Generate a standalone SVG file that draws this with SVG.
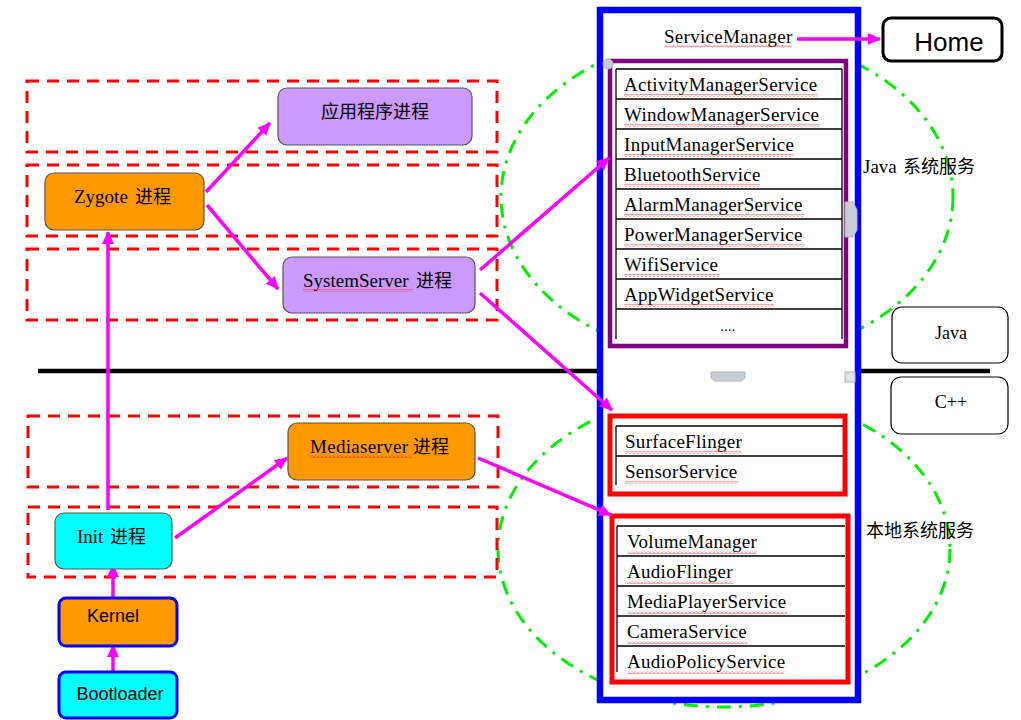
<svg xmlns="http://www.w3.org/2000/svg" width="1021" height="720" viewBox="0 0 1021 720">
<defs>
<style>
.serif{font-family:"Liberation Serif","Noto Sans CJK SC",serif;fill:#000}
.cjk{font-family:"Noto Sans CJK SC",sans-serif}
.sans{font-family:"Liberation Sans",Arial,sans-serif}
.t{font-size:19px;letter-spacing:0.3px}
.node{stroke:#555;stroke-width:1.2}
.dash{fill:none;stroke:#ff0000;stroke-width:3;stroke-dasharray:12 8}
.ell{fill:none;stroke:#00ee00;stroke-width:3;stroke-dasharray:14 8 3 8}
.arr{stroke:#ff00ff;stroke-width:3.5;fill:none;marker-end:url(#ah)}
.cell{stroke:#000;stroke-width:1.3;fill:none}
.sq{fill:url(#wave)}
</style>
<marker id="ah" markerUnits="userSpaceOnUse" markerWidth="14" markerHeight="12" refX="12" refY="6" orient="auto">
<path d="M0,0 L13,6 L0,12 Z" fill="#ff00ff"/>
</marker>
<pattern id="wave" patternUnits="userSpaceOnUse" width="4" height="3">
<path d="M0,2.5 L2,0.5 L4,2.5" fill="none" stroke="#ff2020" stroke-width="0.8"/>
</pattern>
</defs>
<rect width="1021" height="720" fill="#fff"/>

<g id="ellipses">
<ellipse class="ell" cx="727" cy="197" rx="226" ry="163"/>
<ellipse class="ell" cx="724" cy="549" rx="226" ry="158"/>
</g>

<g id="layers">
<rect class="dash" x="27" y="81" width="470" height="71"/>
<rect class="dash" x="27" y="165" width="470" height="71"/>
<rect class="dash" x="27" y="249" width="470" height="71"/>
<rect class="dash" x="28" y="416" width="470" height="71"/>
<rect class="dash" x="28" y="507" width="469" height="70"/>
</g>

<line x1="38" y1="371" x2="990" y2="371" stroke="#000" stroke-width="4.5"/>

<g id="servicemanager-box">
<rect x="600" y="10" width="258" height="690" fill="#fff" stroke="#0000ff" stroke-width="6.5"/>
<text class="serif t" x="664" y="43">ServiceManager</text>
<rect class="sq" x="664" y="45" width="128" height="3"/>
</g>

<g id="home">
<rect x="883" y="18" width="119" height="43" rx="8" fill="#fff" stroke="#000" stroke-width="3"/>
<text class="sans" x="949" y="51" font-size="26" text-anchor="middle">Home</text>
</g>

<g id="java-services">
<rect x="610" y="61" width="236" height="285" fill="none" stroke="#800080" stroke-width="4.5"/>
<path class="cell" d="M616,69 H842 M616,99 H842 M616,129 H842 M616,159 H842 M616,189 H842 M616,219 H842 M616,249 H842 M616,279 H842 M616,309 H842 M616,69 V339 M842,69 V339"/>
<g class="serif t">
<text x="624" y="91">ActivityManagerService</text>
<text x="624" y="121">WindowManagerService</text>
<text x="624" y="151">InputManagerService</text>
<text x="624" y="181">BluetoothService</text>
<text x="624" y="211">AlarmManagerService</text>
<text x="624" y="241">PowerManagerService</text>
<text x="624" y="271">WifiService</text>
<text x="624" y="301">AppWidgetService</text>
<text x="728" y="331" text-anchor="middle" font-size="14">....</text>
</g>
<rect class="sq" x="624" y="94" width="194" height="3"/>
<rect class="sq" x="624" y="124" width="196" height="3"/>
<rect class="sq" x="624" y="154" width="170" height="3"/>
<rect class="sq" x="624" y="184" width="136" height="3"/>
<rect class="sq" x="624" y="214" width="180" height="3"/>
<rect class="sq" x="624" y="244" width="180" height="3"/>
<rect class="sq" x="624" y="274" width="96" height="3"/>
<rect class="sq" x="624" y="304" width="150" height="3"/>
</g>

<g id="java-label">
<text class="serif" x="863" y="173" font-size="19">Java</text>
<text class="cjk" x="903" y="173" font-size="18">系统服务</text>
</g>

<g id="native-services-1">
<rect x="610" y="416" width="235" height="78" fill="none" stroke="#ff0000" stroke-width="5"/>
<path class="cell" d="M616,426 H843 M616,456 H843 M616,426 V485"/>
<g class="serif t">
<text x="625" y="448">SurfaceFlinger</text>
<text x="625" y="478">SensorService</text>
</g>
<rect class="sq" x="625" y="451" width="117" height="3"/>
<rect class="sq" x="625" y="481" width="113" height="3"/>
</g>

<g id="native-services-2">
<rect x="612" y="516" width="236" height="166" fill="none" stroke="#ff0000" stroke-width="5"/>
<path class="cell" d="M617,526 H845 M617,556 H845 M617,586 H845 M617,616 H845 M617,646 H845 M617,526 V672"/>
<g class="serif t">
<text x="627" y="548">VolumeManager</text>
<text x="627" y="578">AudioFlinger</text>
<text x="627" y="608">MediaPlayerService</text>
<text x="627" y="638">CameraService</text>
<text x="627" y="668">AudioPolicyService</text>
</g>
<rect class="sq" x="627" y="551" width="130" height="3"/>
<rect class="sq" x="627" y="581" width="106" height="3"/>
<rect class="sq" x="627" y="611" width="160" height="3"/>
<rect class="sq" x="627" y="641" width="120" height="3"/>
<rect class="sq" x="627" y="671" width="158" height="3"/>
</g>

<g id="native-label">
<text class="cjk" x="866" y="537" font-size="18">本地系统服务</text>
</g>

<g id="java-box">
<rect x="892" y="307" width="116" height="56" rx="10" fill="#fff" stroke="#000" stroke-width="1.2"/>
<text class="serif" x="951" y="339" font-size="18" text-anchor="middle">Java</text>
</g>
<g id="cpp-box">
<rect x="891" y="377" width="117" height="57" rx="10" fill="#fff" stroke="#000" stroke-width="1.2"/>
<text class="serif" x="951" y="408" font-size="18" text-anchor="middle">C++</text>
</g>

<g id="handles" fill="#c8ccd4" stroke="#b0b4bc" stroke-width="1">
<circle cx="608" cy="64" r="5"/>
<path d="M845,202 H853 L857,210 V230 L853,237 H845 Z"/>
<path d="M711,372 H745 V378 L741,381 H715 L711,378 Z"/>
<rect x="845" y="372" width="10" height="10" fill="#e0e2e6"/>
</g>

<g id="connectors">
<line class="arr" x1="797" y1="39" x2="880" y2="39"/>
<line class="arr" x1="206" y1="192" x2="270" y2="123"/>
<line class="arr" x1="207" y1="205" x2="278" y2="289"/>
<line class="arr" x1="108" y1="510" x2="108" y2="232"/>
<line class="arr" x1="175" y1="538" x2="287" y2="458"/>
<line class="arr" x1="113" y1="598" x2="113" y2="565"/>
<line class="arr" x1="113" y1="672" x2="113" y2="645"/>
<line class="arr" x1="480" y1="270" x2="609" y2="158"/>
<line class="arr" x1="480" y1="293" x2="612" y2="410"/>
<line class="arr" x1="478" y1="458" x2="611" y2="515"/>
</g>

<g id="app-process">
<rect class="node" x="278" y="88" width="194" height="57" rx="9" fill="#cc99ff"/>
<text class="cjk" x="375" y="118" font-size="18" text-anchor="middle">应用程序进程</text>
</g>
<g id="zygote">
<rect class="node" x="45" y="173" width="159" height="57" rx="9" fill="#ff9900"/>
<text class="serif" x="74" y="203" font-size="19">Zygote</text>
<text class="cjk" x="135" y="203" font-size="18">进程</text>
</g>
<g id="systemserver">
<rect class="node" x="283" y="257" width="192" height="56" rx="9" fill="#cc99ff"/>
<text class="serif" x="303" y="287" font-size="19">SystemServer</text>
<text class="cjk" x="416" y="287" font-size="18">进程</text>
<rect class="sq" x="303" y="289" width="110" height="3"/>
</g>
<g id="mediaserver">
<rect class="node" x="288" y="423" width="187" height="57" rx="9" fill="#ff9900"/>
<text class="serif" x="310" y="453" font-size="19" letter-spacing="0.3">Mediaserver</text>
<text class="cjk" x="413" y="453" font-size="18">进程</text>
<rect class="sq" x="310" y="455" width="102" height="3"/>
</g>
<g id="init">
<rect class="node" x="55" y="513" width="117" height="56" rx="9" fill="#00ffff"/>
<text class="serif" x="77" y="543" font-size="19">Init</text>
<text class="cjk" x="110" y="543" font-size="18">进程</text>
</g>
<g id="kernel">
<rect x="59" y="598" width="118" height="48" rx="7" fill="#ff9900" stroke="#0000ff" stroke-width="3"/>
<text class="sans" x="113" y="622" font-size="18" text-anchor="middle">Kernel</text>
</g>
<g id="bootloader">
<rect x="59" y="672" width="118" height="46" rx="7" fill="#00ffff" stroke="#0000ff" stroke-width="3"/>
<text class="sans" x="120" y="700" font-size="18" text-anchor="middle">Bootloader</text>
</g>
</svg>
